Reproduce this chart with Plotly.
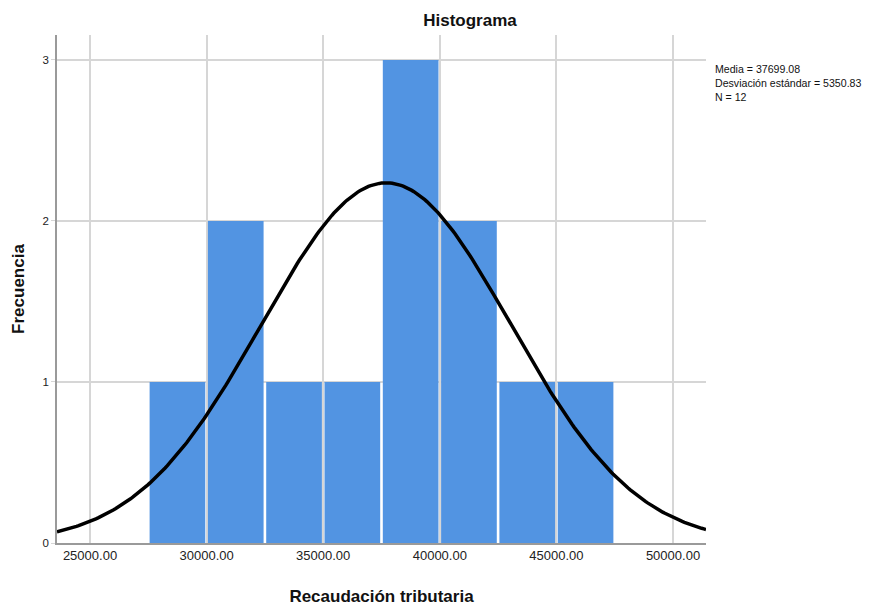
import math

import plotly.graph_objects as go

# Histogram bins (left edges) and counts
bin_edges = [27500, 30000, 32500, 35000, 37500, 40000, 42500, 45000]
bin_width = 2500
counts = [1, 2, 1, 1, 3, 2, 1, 1]

# Summary statistics printed on the chart
media = 37699.08
desv_std = 5350.83
n_obs = 12

x_ticks = [25000, 30000, 35000, 40000, 45000, 50000]
y_ticks = [0, 1, 2, 3]
x_range = [23585, 51415]
y_range = [0, 3.155]

FONT = "Liberation Sans, Arial, sans-serif"
GRID = "#d6d6d6"
AXIS = "#9a9a9a"

# page body adds an 8px offset, so the figure is a bit smaller than the window
W, H = 878, 600
ML, MR, MT, MB = 49, 180, 27, 65

centers = [e + bin_width / 2 for e in bin_edges]

# Normal curve scaled to counts (N * bin width * pdf)
steps = 300
curve_x = [x_range[0] + (x_range[1] - x_range[0]) * i / steps for i in range(steps + 1)]
curve_y = [
    n_obs * bin_width / (desv_std * math.sqrt(2 * math.pi))
    * math.exp(-0.5 * ((x - media) / desv_std) ** 2)
    for x in curve_x
]

fig = go.Figure()
fig.add_trace(
    go.Bar(
        x=centers,
        y=counts,
        width=[bin_width * 0.955] * len(centers),
        marker_color="#5294e2",
        marker_line_width=0,
        hoverinfo="x+y",
    )
)
fig.add_trace(
    go.Scatter(
        x=curve_x,
        y=curve_y,
        mode="lines",
        line=dict(color="black", width=3.5),
        hoverinfo="skip",
    )
)

plot_w = W - ML - MR
plot_h = H - MT - MB

fig.update_layout(
    width=W,
    height=H,
    margin=dict(l=ML, r=MR, t=MT, b=MB, autoexpand=False),
    paper_bgcolor="white",
    plot_bgcolor="white",
    showlegend=False,
    font=dict(family=FONT, color="#222222"),
    title=dict(
        text="<b>Histograma</b>",
        x=462 / W,
        xanchor="center",
        y=1 - 12 / H,
        yanchor="middle",
        font=dict(size=17, family=FONT, color="#111111"),
    ),
    annotations=[
        dict(
            text=(
                f"Media = {media:.2f}<br>"
                f"Desviación estándar = {desv_std:.2f}<br>"
                f"N = {n_obs}"
            ),
            xref="paper",
            yref="paper",
            x=1 + 7 / plot_w,
            y=1 - 26 / plot_h,
            xanchor="left",
            yanchor="top",
            align="left",
            showarrow=False,
            font=dict(size=10.6, family=FONT, color="#111111"),
        )
    ],
)

fig.update_xaxes(
    range=x_range,
    tickvals=x_ticks,
    tickformat=".2f",
    tickfont=dict(size=13, color="#222222"),
    showgrid=True,
    gridcolor=GRID,
    gridwidth=1.5,
    zeroline=False,
    showline=True,
    linecolor=AXIS,
    linewidth=1.5,
    ticks="",
    automargin=False,
    title=dict(
        text="<b>Recaudación tributaria</b>",
        font=dict(size=17, family=FONT, color="#111111"),
        standoff=28,
    ),
)
fig.update_yaxes(
    range=y_range,
    tickvals=y_ticks,
    tickfont=dict(size=11.5, color="#222222"),
    showgrid=True,
    gridcolor=GRID,
    gridwidth=1.5,
    zeroline=False,
    showline=True,
    linecolor=AXIS,
    linewidth=1.5,
    ticks="outside",
    ticklen=4,
    tickcolor=GRID,
    automargin=False,
    title=dict(
        text="<b>Frecuencia</b>",
        font=dict(size=17, family=FONT, color="#111111"),
        standoff=14,
    ),
)

fig.write_html("out.html")
